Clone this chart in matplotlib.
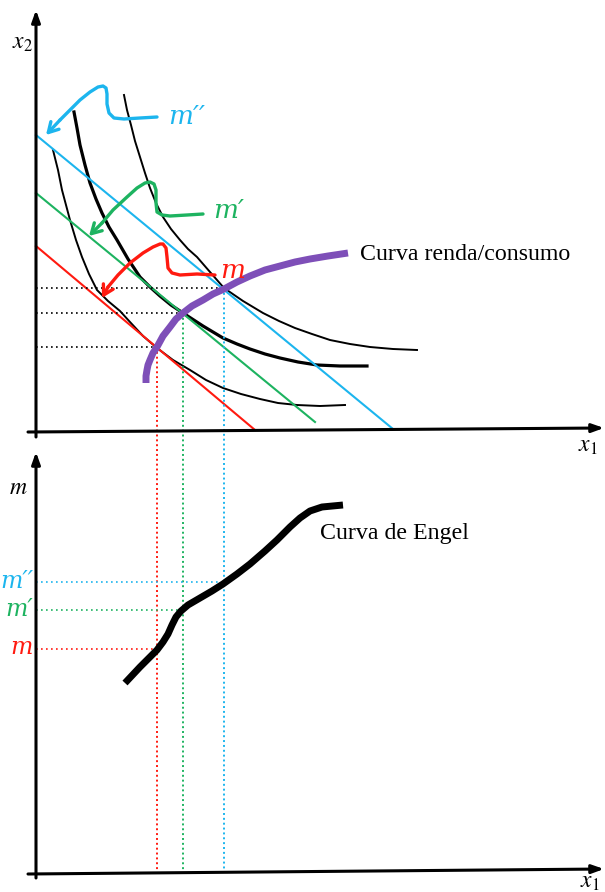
import matplotlib.pyplot as plt

plt.rcParams['mathtext.fontset'] = 'stix'

# colours
BLUE = '#1CB5EE'
GREEN = '#1DB360'
RED = '#FF1A10'
PURPLE = '#7E4FB8'

# ---- top panel (pixel coords, y down) ----
# indifference curves
ic1_x = [53, 58, 62, 66, 70, 76, 82, 89, 97, 108, 120, 130, 143, 157, 173, 190, 206, 223, 241, 260, 278, 297, 320, 345]
ic1_y = [150, 170, 190, 205, 220, 240, 257, 274, 290, 301, 311, 322, 336, 348, 360, 370, 380, 388, 394, 399, 403, 405, 406, 405]
ic2_x = [74, 77, 80, 85, 90, 96, 102, 109, 117, 128, 140, 150, 160, 171, 183, 203, 223, 237, 250, 265, 280, 298, 317, 340, 367]
ic2_y = [112, 128, 145, 165, 183, 199, 213, 227, 240, 259, 277, 287, 296, 305, 313, 326, 338, 344, 349, 354, 358, 362, 365, 366, 366]
ic3_x = [124, 127, 131, 135, 140, 145, 150, 156, 163, 171, 180, 188, 197, 210, 224, 243, 263, 279, 295, 312, 330, 350, 370, 393, 417]
ic3_y = [95, 110, 125, 141, 157, 173, 188, 203, 217, 229, 240, 249, 257, 272, 288, 301, 313, 321, 328, 334, 340, 344, 347, 349, 350]

# budget lines (start, end)
budget_x = {'m': [36, 255], "m'": [36, 315], "m''": [36, 393]}
budget_y = {'m': [246, 430], "m'": [193, 422], "m''": [135, 429]}

# income-consumption curve
icc_x = [146, 146, 147, 148, 150, 153, 157, 163, 170, 176, 183, 192, 203, 213, 224, 237, 250, 265, 280, 295, 310, 328, 348]
icc_y = [383, 376, 370, 365, 360, 353, 347, 336, 327, 319, 313, 306, 300, 294, 289, 282, 276, 270, 266, 262, 259, 256, 253]

# tangency points (x1, x2) and Engel points (x1, m)
tang_x1 = [157, 183, 224]
tang_x2 = [347, 313, 288]
engel_m = [649, 610, 582]
labels = ['m', 'm\u2032', 'm\u2032\u2032']
colors = [RED, GREEN, BLUE]

# hand-drawn arrows
arr_blue_x = [157, 140, 124, 114, 109, 107, 107, 106, 103, 98, 90, 80, 70, 60, 46]
arr_blue_y = [117, 118, 119, 118, 113, 104, 94, 88, 86, 87, 92, 100, 110, 120, 135]
arr_green_x = [203, 187, 170, 162, 157, 156, 156, 154, 150, 145, 137, 127, 113, 102, 89]
arr_green_y = [214, 215, 216, 215, 212, 203, 190, 184, 182, 183, 188, 197, 210, 223, 236]
arr_red_x = [215, 197, 180, 172, 168, 167, 166, 163, 160, 153, 143, 130, 118, 108, 102]
arr_red_y = [275, 274, 275, 273, 268, 257, 248, 244, 244, 247, 253, 263, 275, 287, 298]

# Engel curve
engel_x = [125, 140, 150, 157, 163, 168, 172, 176, 181, 188, 200, 212, 223, 237, 250, 265, 277, 290, 300, 310, 322, 343]
engel_y = [683, 667, 657, 650, 642, 634, 625, 617, 611, 605, 598, 591, 584, 574, 564, 551, 540, 527, 518, 511, 507, 505]


def main():
    fig = plt.figure(figsize=(6.05, 8.92), dpi=100)
    ax = fig.add_axes([0, 0, 1, 1])
    ax.set_xlim(0, 605)
    ax.set_ylim(892, 0)
    ax.axis('off')

    axprops = dict(arrowstyle='-|>,head_length=0.7,head_width=0.25',
                   color='black', lw=2.2, shrinkA=0, shrinkB=0)
    # axes of top panel
    ax.annotate('', xy=(36, 10), xytext=(36, 437), arrowprops=axprops)
    ax.annotate('', xy=(604, 428), xytext=(28, 432), arrowprops=axprops)
    # axes of bottom panel
    ax.annotate('', xy=(36, 452), xytext=(36, 878), arrowprops=axprops)
    ax.annotate('', xy=(604, 869), xytext=(28, 874), arrowprops=axprops)

    ax.text(22, 42, r'$x_2$', fontsize=17, ha='center', va='center')
    ax.text(588, 445, r'$x_1$', fontsize=17, ha='center', va='center')
    ax.text(18, 487, r'$m$', fontsize=17, ha='center', va='center')
    ax.text(590, 881, r'$x_1$', fontsize=17, ha='center', va='center')

    # indifference curves
    ax.plot(ic1_x, ic1_y, color='black', lw=1.4)
    ax.plot(ic2_x, ic2_y, color='black', lw=2.3)
    ax.plot(ic3_x, ic3_y, color='black', lw=1.4)

    # budget lines
    for lab, c in zip(labels, colors):
        key = lab.replace('\u2032', "'")
        ax.plot(budget_x[key], budget_y[key], color=c, lw=1.5)

    # dotted guides
    for x1, x2, m, c in zip(tang_x1, tang_x2, engel_m, colors):
        ax.plot([36, x1], [x2, x2], color='black', lw=1.2, ls=(0, (1, 2)))
        ax.plot([x1, x1], [x2, 870], color=c, lw=1.4, ls=(0, (1, 1.5)))
        ax.plot([36, x1], [m, m], color=c, lw=1.2, ls=(0, (1, 2)))

    # income-consumption curve
    ax.plot(icc_x, icc_y, color=PURPLE, lw=5, solid_capstyle='butt')
    ax.text(360, 254, 'Curva renda/consumo', fontsize=17.2,
            family='Liberation Serif', va='center')

    # squiggly arrows with labels
    for xs, ys, c, lab, pos in [
            (arr_blue_x, arr_blue_y, BLUE, labels[2], (168, 117)),
            (arr_green_x, arr_green_y, GREEN, labels[1], (213, 211)),
            (arr_red_x, arr_red_y, RED, labels[0], (220, 271))]:
        ax.plot(xs[:-1], ys[:-1], color=c, lw=2.4, solid_capstyle='round',
                solid_joinstyle='round')
        ax.annotate('', xy=(xs[-1], ys[-1]), xytext=(xs[-2], ys[-2]),
                    arrowprops=dict(arrowstyle='->,head_length=0.7,head_width=0.4',
                                    color=c, lw=2.4, shrinkA=0, shrinkB=0))
        ax.text(pos[0], pos[1], lab, color=c, fontsize=19, style='italic',
                family='DejaVu Serif', va='center', ha='left')

    # Engel panel
    for m, c, lab in zip(engel_m, colors, labels):
        ax.text(33, m - 1, lab, color=c, fontsize=17, style='italic',
                family='DejaVu Serif', va='center', ha='right')
    ax.plot(engel_x, engel_y, color='black', lw=5, solid_capstyle='butt',
            solid_joinstyle='round')
    ax.text(320, 533, 'Curva de Engel', fontsize=17.2,
            family='Liberation Serif', va='center')

    fig.savefig('out.png', dpi=100)


if __name__ == '__main__':
    main()
